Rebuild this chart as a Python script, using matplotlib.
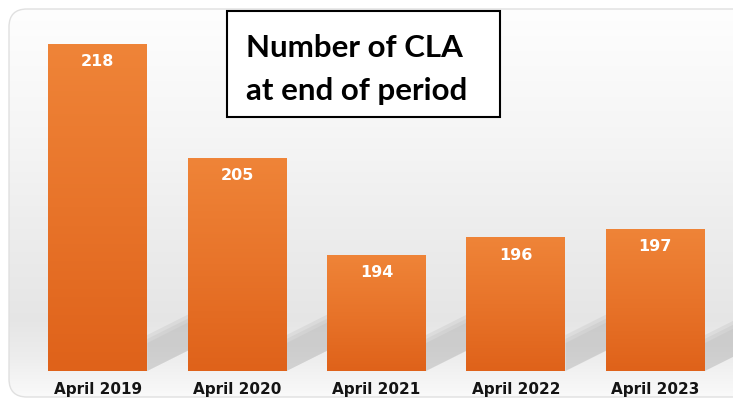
import numpy as np
import matplotlib
matplotlib.use("Agg")
import matplotlib.pyplot as plt
from matplotlib.patches import FancyBboxPatch, Rectangle, Polygon
from matplotlib.colors import LinearSegmentedColormap

categories = ["April 2019", "April 2020", "April 2021", "April 2022", "April 2023"]
values = [218, 205, 194, 196, 197]
title_lines = ["Number of CLA", "at end of period"]

W, H = 733, 402
fig = plt.figure(figsize=(W / 100, H / 100), dpi=100)
fig.patch.set_facecolor("white")

# background panel with vertical grey gradient
bg = fig.add_axes([0, 0, 1, 1], zorder=0)
bg.axis("off")
stops_pos = [0.0, 0.3, 0.6, 0.8, 0.9, 1.0]
stops_val = [0.995, 0.965, 0.925, 0.9, 0.93, 0.98]
col = np.interp(np.linspace(0, 1, 300), stops_pos, stops_val)
img = np.repeat(col[:, None, None], 3, axis=2).repeat(2, axis=1)
panel = FancyBboxPatch((9, 10), W + 30, H - 14, boxstyle="round,pad=0,rounding_size=18",
                       linewidth=1.0, edgecolor="#e0e0e0", facecolor="none", zorder=3)
bg.add_patch(panel)
im = bg.imshow(img, extent=(9, W + 40, H - 4, 10), aspect="auto", zorder=0)
im.set_clip_path(panel)
bg.set_xlim(0, W)
bg.set_ylim(H, 0)

# bar chart
ax = fig.add_axes([28 / W, (H - 372) / H, (725 - 28) / W, 327 / H], zorder=1)
ax.patch.set_alpha(0)
x = np.arange(len(categories))
ymin = 180.8
bars = ax.bar(x, values, width=0.71, bottom=0, color="none", edgecolor="none")
ax.set_xlim(-0.5, len(categories) - 0.5)
ax.set_ylim(ymin, 218)

# soft diagonal shadows cast by the bars (decorative, derived from bar geometry)
for b in bars:
    xr_disp, yb_disp = ax.transData.transform((b.get_x() + b.get_width(), ymin))
    xr, yb = xr_disp, H - yb_disp
    L = 100
    for k, a in zip([0, 4, 8], [0.10, 0.09, 0.08]):
        thick = 36 - k
        poly = Polygon([(xr, yb), (xr, yb - thick), (xr + L, yb - thick - 0.5 * L),
                        (xr + L, yb - 0.5 * L)], closed=True, facecolor="#7a7a7a",
                       edgecolor="none", alpha=a, zorder=1)
        poly.set_clip_path(panel)
        bg.add_patch(poly)

cmap = LinearSegmentedColormap.from_list("o", ["#ef8438", "#e8742a", "#df621a"])
grad_bar = np.linspace(0, 1, 200)[:, None]
for b in bars:
    x0, w, h = b.get_x(), b.get_width(), b.get_height()
    gi = ax.imshow(grad_bar, cmap=cmap, extent=(x0, x0 + w, ymin, h), aspect="auto",
                   origin="upper", zorder=2)
    gi.set_clip_path(b)
ax.set_xlim(-0.5, len(categories) - 0.5)
ax.set_ylim(ymin, 218)
for xi, v in zip(x, values):
    ax.annotate(str(v), (xi, v), xytext=(0, -12), textcoords="offset points",
                ha="center", va="center", color="white", fontsize=11.5,
                fontweight="bold", family="DejaVu Sans", zorder=3)
ax.set_xticks(x)
ax.set_xticklabels(categories, fontsize=11, fontweight="bold", family="DejaVu Sans",
                   color="#141414")
ax.tick_params(axis="x", length=0, pad=7.5)
ax.set_yticks([])
for s in ax.spines.values():
    s.set_visible(False)

# title box
tb = fig.add_axes([0, 0, 1, 1], zorder=4)
tb.set_xlim(0, W)
tb.set_ylim(H, 0)
tb.axis("off")
tb.add_patch(Rectangle((227, 12), 273, 106, facecolor="white", edgecolor="black", linewidth=1.5))
tb.text(246, 57, title_lines[0], fontsize=22.5, fontweight="bold", family="Lato",
        ha="left", va="baseline", color="black")
tb.text(246, 100, title_lines[1], fontsize=22.5, fontweight="bold", family="Lato",
        ha="left", va="baseline", color="black")

fig.savefig("out.png", dpi=100)
